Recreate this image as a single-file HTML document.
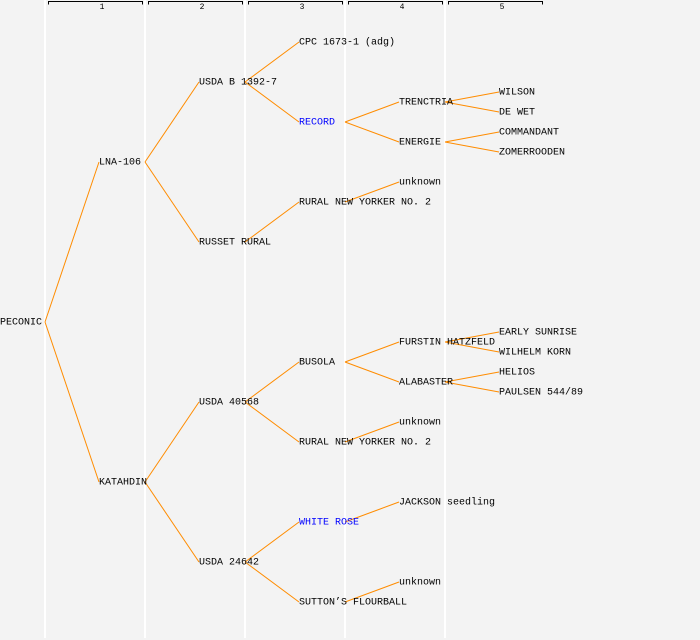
<!DOCTYPE html>
<html><head><meta charset="utf-8"><style>
html,body{margin:0;padding:0;background:#f3f3f3;}
svg{display:block;}
text{font-family:"Liberation Mono",monospace;font-size:10px;fill:#000;dominant-baseline:middle;}
.b{fill:#0000ff;}
.n{font-size:8px;text-anchor:middle;}
</style></head><body>
<svg width="700" height="640" xmlns="http://www.w3.org/2000/svg">
<rect width="700" height="640" fill="#f3f3f3"/>
<g stroke="#ffffff" stroke-width="2">
<line x1="45" y1="0" x2="45" y2="638"/><line x1="145" y1="0" x2="145" y2="638"/>
<line x1="245" y1="0" x2="245" y2="638"/><line x1="345" y1="0" x2="345" y2="638"/>
<line x1="445" y1="0" x2="445" y2="638"/>
</g>
<g stroke="#000" stroke-width="1" fill="none">
<path d="M48.5 4.5V1.5H142.5V4.5"/><path d="M148.5 4.5V1.5H242.5V4.5"/>
<path d="M248.5 4.5V1.5H342.5V4.5"/><path d="M348.5 4.5V1.5H442.5V4.5"/>
<path d="M448.5 4.5V1.5H542.5V4.5"/>
</g>
<text class="n" x="102" y="7">1</text><text class="n" x="202" y="7">2</text>
<text class="n" x="302" y="7">3</text><text class="n" x="402" y="7">4</text>
<text class="n" x="502" y="7">5</text>
<g stroke="#ff8c00" stroke-width="1" fill="none">
<line x1="45" y1="322" x2="99" y2="162"/><line x1="45" y1="322" x2="99" y2="482"/>
<line x1="145" y1="162" x2="199" y2="82"/><line x1="145" y1="162" x2="199" y2="242"/>
<line x1="145" y1="482" x2="199" y2="402"/><line x1="145" y1="482" x2="199" y2="562"/>
<line x1="245" y1="82" x2="299" y2="42"/><line x1="245" y1="82" x2="299" y2="122"/>
<line x1="245" y1="242" x2="299" y2="202"/>
<line x1="245" y1="402" x2="299" y2="362"/><line x1="245" y1="402" x2="299" y2="442"/>
<line x1="245" y1="562" x2="299" y2="522"/><line x1="245" y1="562" x2="299" y2="602"/>
<line x1="345" y1="122" x2="399" y2="102"/><line x1="345" y1="122" x2="399" y2="142"/>
<line x1="345" y1="202" x2="399" y2="182"/>
<line x1="345" y1="362" x2="399" y2="342"/><line x1="345" y1="362" x2="399" y2="382"/>
<line x1="345" y1="442" x2="399" y2="422"/>
<line x1="345" y1="522" x2="399" y2="502"/>
<line x1="345" y1="602" x2="399" y2="582"/>
<line x1="445" y1="102" x2="499" y2="92"/><line x1="445" y1="102" x2="499" y2="112"/>
<line x1="445" y1="142" x2="499" y2="132"/><line x1="445" y1="142" x2="499" y2="152"/>
<line x1="445" y1="342" x2="499" y2="332"/><line x1="445" y1="342" x2="499" y2="352"/>
<line x1="445" y1="382" x2="499" y2="372"/><line x1="445" y1="382" x2="499" y2="392"/>
</g>
<text x="0" y="322">PECONIC</text>
<text x="99" y="162">LNA-106</text><text x="99" y="482">KATAHDIN</text>
<text x="199" y="82">USDA B 1392-7</text><text x="199" y="242">RUSSET RURAL</text>
<text x="199" y="402">USDA 40568</text><text x="199" y="562">USDA 24642</text>
<text x="299" y="42">CPC 1673-1 (adg)</text><text class="b" x="299" y="122">RECORD</text>
<text x="299" y="202">RURAL NEW YORKER NO. 2</text><text x="299" y="362">BUSOLA</text>
<text x="299" y="442">RURAL NEW YORKER NO. 2</text><text class="b" x="299" y="522">WHITE ROSE</text>
<text x="299" y="602">SUTTON’S FLOURBALL</text>
<text x="399" y="102">TRENCTRIA</text><text x="399" y="142">ENERGIE</text>
<text x="399" y="182">unknown</text><text x="399" y="342">FURSTIN HATZFELD</text>
<text x="399" y="382">ALABASTER</text><text x="399" y="422">unknown</text>
<text x="399" y="502">JACKSON seedling</text><text x="399" y="582">unknown</text>
<text x="499" y="92">WILSON</text><text x="499" y="112">DE WET</text>
<text x="499" y="132">COMMANDANT</text><text x="499" y="152">ZOMERROODEN</text>
<text x="499" y="332">EARLY SUNRISE</text><text x="499" y="352">WILHELM KORN</text>
<text x="499" y="372">HELIOS</text><text x="499" y="392">PAULSEN 544/89</text>
</svg>
</body></html>
